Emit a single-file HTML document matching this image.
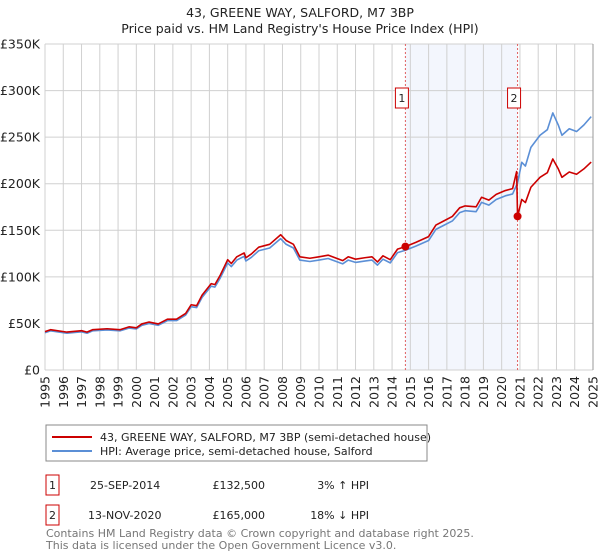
<!DOCTYPE html>
<html><head><meta charset="utf-8"><style>
body{margin:0;background:#fff;font-family:"DejaVu Sans","Liberation Sans",sans-serif;}
#wrap{position:relative;width:600px;height:560px;overflow:hidden}
</style></head><body>
<div id="wrap">
<svg id="chart" width="600" height="560" xmlns="http://www.w3.org/2000/svg" font-family="DejaVu Sans, Liberation Sans, sans-serif">
<text x="300" y="17" text-anchor="middle" font-size="12.5" fill="#222">43, GREENE WAY, SALFORD, M7 3BP</text>
<text x="300" y="33" text-anchor="middle" font-size="12.5" fill="#222">Price paid vs. HM Land Registry's House Price Index (HPI)</text>
<g id="grid"></g><g id="series"></g><g id="axes"></g>
<rect x="46" y="425" width="381" height="36" fill="#fff" stroke="#888"/>
<line x1="52" y1="437" x2="92" y2="437" stroke="#cc0000" stroke-width="2"/>
<text x="100" y="441" font-size="11" fill="#222">43, GREENE WAY, SALFORD, M7 3BP (semi-detached house)</text>
<line x1="52" y1="451" x2="92" y2="451" stroke="#5b8fd6" stroke-width="2"/>
<text x="100" y="455" font-size="11" fill="#222">HPI: Average price, semi-detached house, Salford</text>
<g>
<rect x="46" y="475" width="13" height="20" fill="#fff" stroke="#cc0000"/>
<text x="52.5" y="489" text-anchor="middle" font-size="11" fill="#222">1</text>
<text x="90" y="489" font-size="11" fill="#222">25-SEP-2014</text>
<text x="265" y="489" text-anchor="end" font-size="11" fill="#222">£132,500</text>
<text x="369" y="489" text-anchor="end" font-size="11" fill="#222">3% ↑ HPI</text>
</g>
<g>
<rect x="46" y="505" width="13" height="20" fill="#fff" stroke="#cc0000"/>
<text x="52.5" y="519" text-anchor="middle" font-size="11" fill="#222">2</text>
<text x="88" y="519" font-size="11" fill="#222">13-NOV-2020</text>
<text x="265" y="519" text-anchor="end" font-size="11" fill="#222">£165,000</text>
<text x="369" y="519" text-anchor="end" font-size="11" fill="#222">18% ↓ HPI</text>
</g>
<text x="46" y="537" font-size="11" fill="#777">Contains HM Land Registry data © Crown copyright and database right 2025.</text>
<text x="46" y="549" font-size="11" fill="#777">This data is licensed under the Open Government Licence v3.0.</text>
</svg></div>
<script>
const hpiYears=[1995,1995.3,1996.2,1997,1997.3,1997.6,1998.4,1999.1,1999.6,2000,2000.3,2000.7,2001.2,2001.7,2002.2,2002.7,2003,2003.3,2003.6,2004.1,2004.3,2004.6,2004.85,2005,2005.2,2005.5,2005.9,2006,2006.3,2006.7,2007.3,2007.9,2008.2,2008.6,2008.95,2009.5,2010,2010.5,2011.3,2011.6,2012,2012.5,2012.9,2013.2,2013.5,2013.9,2014.3,2014.73,2015.3,2016,2016.4,2016.8,2017.3,2017.7,2018,2018.6,2018.9,2019.3,2019.7,2020.2,2020.6,2020.87,2021.1,2021.3,2021.6,2022.1,2022.5,2022.8,2023.1,2023.3,2023.7,2024.1,2024.5,2024.9];
const hpiValues=[40,42,39.5,41,39.5,42,43,42,45,44,48,50,48,53,53,59,68,67,78,90,89,99,109,115,111,118,122,117,121,128,131,141,135,131,118,116.5,118,119.7,114,118,115.5,117,118,112.6,119,115,126,128.6,133,139,151,155,160,169,171,170,180,177,183,187,189,201,223,219,239,252,258,276,263,252,259,256,263,272];
const saleYears=[2014.73,2020.87];
const salePrices=[132.5,165];
const saleLabels=["1","2"];
const yTicks=[0,50,100,150,200,250,300,350];
const yTickLabels=["£0","£50K","£100K","£150K","£200K","£250K","£300K","£350K"];
const xTicks=[1995,1996,1997,1998,1999,2000,2001,2002,2003,2004,2005,2006,2007,2008,2009,2010,2011,2012,2013,2014,2015,2016,2017,2018,2019,2020,2021,2022,2023,2024,2025];

const NS="http://www.w3.org/2000/svg";
const X0=45,X1=593,Y0=370,Y1=44,YMIN=1995,YMAX=2025,VMAX=350;
const xs=y=>X0+(y-YMIN)/(YMAX-YMIN)*(X1-X0);
const ys=v=>Y0-v/VMAX*(Y0-Y1);
function mk(tag,attrs,parent){const e=document.createElementNS(NS,tag);for(const k in attrs)e.setAttribute(k,attrs[k]);parent.appendChild(e);return e;}
const grid=document.getElementById('grid'),series=document.getElementById('series'),axes=document.getElementById('axes');
function hpiAt(t){for(let i=1;i<hpiYears.length;i++){if(t<=hpiYears[i]){const f=(t-hpiYears[i-1])/(hpiYears[i]-hpiYears[i-1]);return hpiValues[i-1]+f*(hpiValues[i]-hpiValues[i-1]);}}return hpiValues[hpiValues.length-1];}
const sh=mk('rect',{x:xs(saleYears[0]),y:Y1,width:xs(saleYears[1])-xs(saleYears[0]),height:Y0-Y1,fill:'#f3f6fd'},grid);


yTicks.forEach((v,i)=>{
 const l=mk('line',{x1:X0,x2:X1,y1:ys(v),y2:ys(v),stroke:'#d0d0d0','stroke-width':1},grid);
 
 
 const t=mk('text',{x:X0-5,y:ys(v)+4.5,'text-anchor':'end','font-size':12.5,fill:'#222'},axes);
 t.textContent=yTickLabels[i];
 
 
});
xTicks.forEach(y=>{
 const l=mk('line',{x1:xs(y),x2:xs(y),y1:Y1,y2:Y0,stroke:'#d0d0d0','stroke-width':1},grid);
 
 
 const t=mk('text',{x:0,y:0,'text-anchor':'end','font-size':12.5,fill:'#222',transform:`translate(${xs(y)+4.5},${Y0+6}) rotate(-90)`},axes);
 t.textContent=y;
 
 
});
const rb=mk('line',{x1:X1,x2:X1,y1:Y1,y2:Y0,stroke:'#999','stroke-width':1},grid);


saleYears.forEach((s,i)=>{
 const l=mk('line',{x1:xs(s),x2:xs(s),y1:Y1,y2:Y0,stroke:'#e06060','stroke-width':1,'stroke-dasharray':'2,2'},grid);
 
 
});
const hp=mk('polyline',{points:hpiYears.map((y,i)=>xs(y)+','+ys(hpiValues[i])).join(' '),fill:'none',stroke:'#5b8fd6','stroke-width':1.6,'stroke-linejoin':'round'},series);


const r1=salePrices[0]/hpiAt(saleYears[0]),r0=1.03,r2=salePrices[1]/hpiAt(saleYears[1]);
const pts=[];
hpiYears.forEach((y,i)=>{
 if(y<saleYears[0])pts.push([y,hpiValues[i]*r0]);
 else if(y<saleYears[1])pts.push([y,hpiValues[i]*r1]);
});
pts.push([saleYears[0],salePrices[0]]);
pts.sort((a,b)=>a[0]-b[0]);
pts.push([saleYears[1]-0.05,hpiAt(saleYears[1]-0.05)*r1*1.04]);
pts.push([saleYears[1],salePrices[1]]);
hpiYears.forEach((y,i)=>{if(y>saleYears[1])pts.push([y,hpiValues[i]*r2]);});
const rp=mk('polyline',{points:pts.map(p=>xs(p[0])+','+ys(p[1])).join(' '),fill:'none',stroke:'#cc0000','stroke-width':1.6,'stroke-linejoin':'round'},series);


saleYears.forEach((s,i)=>{
 const c=mk('circle',{cx:xs(s),cy:ys(salePrices[i]),r:4,fill:'#cc0000'},series);
 
 
 const b=mk('rect',{x:xs(s)-10,y:88,width:13,height:20,fill:'#fff',stroke:'#cc0000'},series);
 
 
 const t=mk('text',{x:xs(s)-3.5,y:102,'text-anchor':'middle','font-size':11,fill:'#222'},series);
 t.textContent=saleLabels[i];
 
 
});
</script>
</body></html>
